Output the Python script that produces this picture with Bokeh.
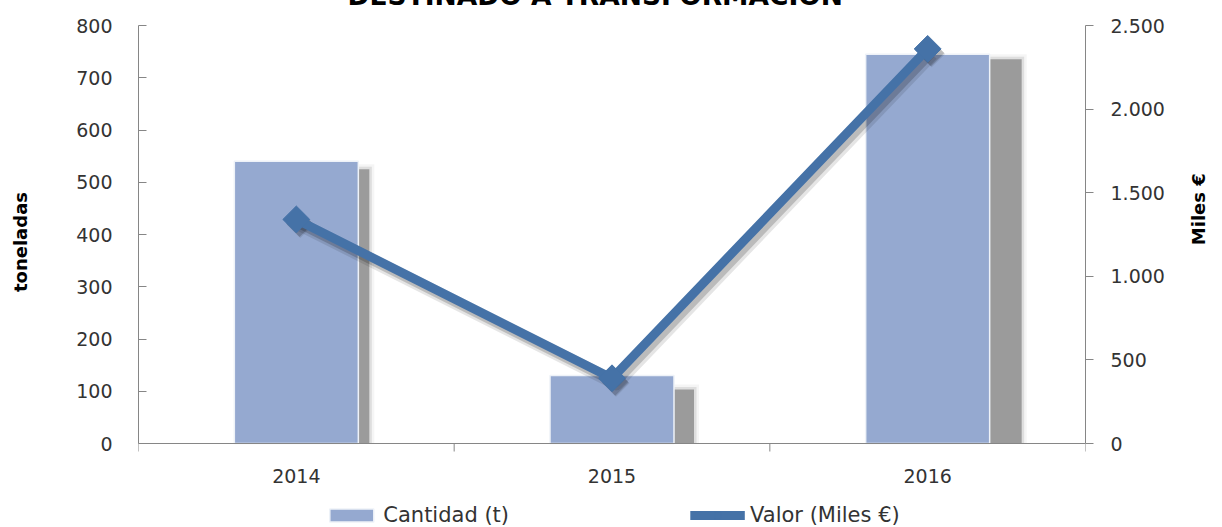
import math
from bokeh.plotting import figure
from bokeh.models import Range1d, LinearAxis, FixedTicker, Legend, LegendItem
from bokeh.core.properties import value
from bokeh.embed import file_html
from bokeh.resources import INLINE

# ---------------- data ----------------
years = ["2014", "2015", "2016"]
cantidad_t = [540, 130, 745]
valor_miles = [1340, 390, 2360]
left_ticks = [0, 100, 200, 300, 400, 500, 600, 700, 800]
right_ticks = [0, 500, 1000, 1500, 2000, 2500]
right_tick_labels = ["0", "500", "1.000", "1.500", "2.000", "2.500"]
title_text = "DESTINADO A TRANSFORMACIÓN"
left_title = "toneladas"
right_title = "Miles €"

# ---------------- style ----------------
FONT = "DejaVu Sans"
BAR_COLOR = "#95A9D0"
LINE_COLOR = "#4572A7"
AXIS_COLOR = "#868686"
TEXT_COLOR = "#333333"
SHADOW_COLOR = "#9B9B9B"
NBSP = "\u00a0"

W, H = 1222, 527
EXTRA_TOP = 40                 # canvas part hidden above the page (title is cut off)
BL, BR = 138, 137
TOP, AXIS_Y = 25, 443          # page y of value 800 and of value 0
n = len(years)
PLOT_H = AXIS_Y - TOP          # pixels for 0..800
BELOW = H - AXIS_Y             # pixels of frame below the zero line (x labels + legend)
px_x = n / (W - BL - BR)
px_l = 800 / PLOT_H
px_r = 2500 / PLOT_H

xc = [i + 0.5 for i in range(n)]
bar_w = 124 * px_x

p = figure(width=W, height=H + EXTRA_TOP,
           x_range=Range1d(0, n), y_range=Range1d(-BELOW * px_l, 800),
           x_axis_location=None, title=title_text,
           output_backend="svg", toolbar_location=None,
           min_border_left=BL, min_border_right=BR,
           min_border_top=TOP + EXTRA_TOP, min_border_bottom=0)
p.styles = {"margin-top": "-%dpx" % EXTRA_TOP}
p.extra_y_ranges = {"valor": Range1d(-BELOW * px_r, 2500)}
p.outline_line_color = None
p.xgrid.visible = False
p.ygrid.visible = False
p.background_fill_color = "white"
p.border_fill_color = "white"

p.title.align = "left"
p.title.offset = 209
p.title.standoff = 30
p.title.text_font = FONT
p.title.text_font_style = "bold"
p.title.text_font_size = "26.5px"
p.title.text_color = "black"

# ---------- bar shadows (perspective-like, offset to the right) ----------
shadow_dx_px = [11, 20, 32]
shadow_dy_px = [8, 14, 5]
for grow, alpha in [(5, 0.10), (2.5, 0.25), (0, 1.0)]:
    lefts = [x - bar_w / 2 + d * px_x for x, d in zip(xc, shadow_dx_px)]
    rights = [x + bar_w / 2 + (d + grow) * px_x for x, d in zip(xc, shadow_dx_px)]
    tops = [v - (dy - grow) * px_l for v, dy in zip(cantidad_t, shadow_dy_px)]
    p.quad(left=lefts, right=rights, top=tops, bottom=[0] * n,
           fill_color=SHADOW_COLOR, fill_alpha=alpha, line_color=None)

# ---------- bars ----------
bars = p.vbar(x=xc, top=cantidad_t, width=bar_w, bottom=0,
              fill_color=BAR_COLOR, line_color="#EEF2F8", line_width=1.5)

# ---------- category axis (line, boundary ticks, year labels) ----------
bounds_x = [float(i) for i in range(n + 1)]
p.segment(x0=[0], y0=[0], x1=[n], y1=[0], line_color=AXIS_COLOR, line_width=1)
p.segment(x0=bounds_x, y0=[0] * (n + 1), x1=bounds_x, y1=[-8 * px_l] * (n + 1),
          line_color=AXIS_COLOR, line_width=1)
p.text(x=xc, y=[0] * n, text=years, y_offset=32, text_align="center",
       text_baseline="middle", text_font=value(FONT), text_font_size="19px",
       text_color=TEXT_COLOR)

# ---------- line shadow ----------
for off, alpha, lw in [(5, 0.10, 14), (4, 0.18, 10)]:
    sx = [x + off * 0.8 * px_x for x in xc]
    sy = [v - off * px_r for v in valor_miles]
    p.line(sx, sy, y_range_name="valor", line_color="black", line_alpha=alpha,
           line_width=lw, line_join="round")
    p.scatter(sx, sy, y_range_name="valor", marker="square", angle=math.pi / 4,
              size=19, fill_color="black", fill_alpha=alpha, line_color=None)

# ---------- line ----------
line_r = p.line(xc, valor_miles, y_range_name="valor", line_color=LINE_COLOR,
                line_width=9, line_join="round")
mark_r = p.scatter(xc, valor_miles, y_range_name="valor", marker="square",
                   angle=math.pi / 4, size=19, fill_color=LINE_COLOR, line_color=LINE_COLOR)

# ---------- value axes ----------
ya = p.yaxis[0]
ya.bounds = (0, 800)
ya.ticker = FixedTicker(ticks=left_ticks)
ya.axis_line_color = AXIS_COLOR
ya.major_tick_line_color = AXIS_COLOR
ya.major_tick_in = 8
ya.major_tick_out = 0
ya.minor_tick_line_color = None
ya.major_label_standoff = 26
ya.major_label_text_font = FONT
ya.major_label_text_font_size = "19px"
ya.major_label_text_color = TEXT_COLOR
ya.axis_label = NBSP * 11 + left_title      # lifts the title to the middle of the 0-800 span
ya.axis_label_text_font = FONT
ya.axis_label_text_font_style = "bold"
ya.axis_label_text_font_size = "18px"
ya.axis_label_text_color = "black"
ya.axis_label_standoff = 42

ra = LinearAxis(y_range_name="valor", bounds=(0, 2500), ticker=FixedTicker(ticks=right_ticks),
                major_label_overrides={t: l for t, l in zip(right_ticks, right_tick_labels)})
ra.axis_line_color = AXIS_COLOR
ra.major_tick_line_color = AXIS_COLOR
ra.major_tick_in = 0
ra.major_tick_out = 8
ra.minor_tick_line_color = None
ra.major_label_standoff = 17
ra.major_label_text_font = FONT
ra.major_label_text_font_size = "19px"
ra.major_label_text_color = TEXT_COLOR
ra.axis_label = NBSP * 5 + right_title
ra.axis_label_orientation = math.pi / 2
ra.axis_label_text_baseline = "top"
ra.axis_label_text_font = FONT
ra.axis_label_text_font_style = "bold"
ra.axis_label_text_font_size = "18px"
ra.axis_label_text_color = "black"
ra.axis_label_standoff = 31
p.add_layout(ra, "right")

# ---------- legend ----------
legend = Legend(items=[LegendItem(label="Cantidad (t)", renderers=[bars]),
                       LegendItem(label="Valor (Miles €)", renderers=[line_r, mark_r])],
                orientation="horizontal", location="bottom_center",
                glyph_width=55, glyph_height=16, label_standoff=5, spacing=181,
                padding=0, margin=0, border_line_color=None, background_fill_alpha=0,
                label_text_font=FONT, label_text_font_size="21px", label_text_color=TEXT_COLOR)
p.add_layout(legend, "center")

open("out.html", "w").write(file_html(p, INLINE))
